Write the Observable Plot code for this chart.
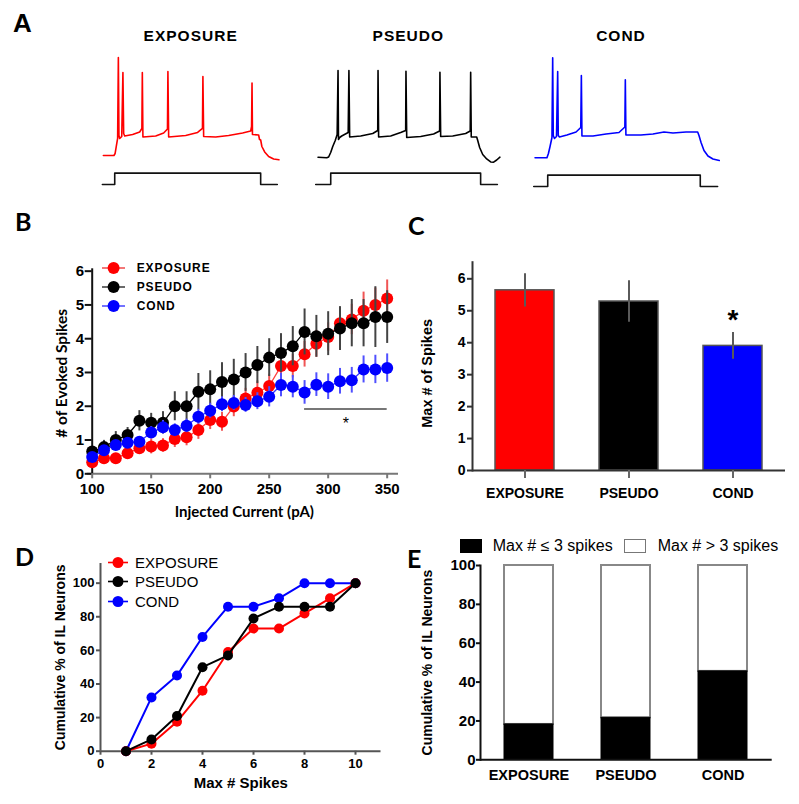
<!DOCTYPE html>
<html><head><meta charset="utf-8">
<script src="https://cdn.jsdelivr.net/npm/d3@7"></script>
<script src="https://cdn.jsdelivr.net/npm/@observablehq/plot@0.6"></script>
<style>
body{margin:0;background:#fff;}
#fig{position:relative;width:799px;height:804px;overflow:hidden;background:#fff;font-family:"Liberation Sans",Arial,sans-serif;}
.t{position:absolute;white-space:nowrap;line-height:1;}
</style></head><body><div id="fig"></div>
<script>
// ---------------- DATA ----------------
const groups = ["EXPOSURE", "PSEUDO", "COND"];
const groupColors = ["#ff0000", "#000000", "#0000ff"];

// Panel A: example voltage traces, [time (ms from step onset), membrane potential (mV)]
const exposureTrace = [[-77,-68],[-5,-68],[3,-66],[12,-58],[20,-51],[25,30],[29,-48],[34,-51],[48,-49],[56,15],[61,-46],[68,-48.5],[122,-47],[170,-44.5],[185,-41],[188,15],[192,-49.5],[279,-48.5],[333,-45.5],[359,-41.5],[362,16],[367,-49.5],[483,-48],[564,-45],[597,-41],[600,11],[605,-49],[687,-49.5],[775,-48],[870,-45.5],[925,-43.5],[931,-39],[934,4.5],[937,-47],[979,-47.5],[985,-52],[993,-52.5],[1001,-59],[1020,-64.5],[1047,-69],[1081,-71.5],[1117,-72.3]];
const pseudoTrace = [[-86,-69.7],[-27,-70.3],[-14,-69.5],[0,-65],[14,-59],[31,-53],[44,-47],[50,17],[53,-52],[61,-50],[75,-48.5],[119,-45],[124,17],[129,-49.5],[204,-48.5],[286,-46],[320,-43],[322,17],[326,-49.5],[408,-48.5],[476,-45],[510,-43],[512,16.3],[517,-50],[612,-49],[700,-46.5],[741,-43.5],[743,15.3],[748,-49],[830,-48.5],[918,-46],[949,-43.5],[952,15.3],[956,-49.5],[993,-49.5],[1000,-53],[1013,-60],[1034,-67],[1061,-71.5],[1088,-74.5],[1108,-74.7],[1129,-72.5],[1151,-69.7]];
const condTrace = [[-86,-70.3],[-5,-70.3],[5,-66],[16,-59],[29,-50],[34,29.7],[38,-48],[46,-51],[60,-49],[68,16],[72,-48],[80,-49.5],[131,-47.5],[193,-44.5],[225,-40],[229,12],[233,-48.5],[308,-48.5],[397,-46.5],[485,-45],[525,-39.5],[528,7.7],[532,-47.5],[634,-47.5],[716,-46.5],[791,-44.5],[852,-45.5],[941,-44.5],[1020,-44.5],[1029,-48],[1043,-55],[1063,-63],[1090,-68.5],[1124,-71.5],[1167,-73]];
// injected current steps, [time (ms), current (pA)]
const exposureStep = [[-84,0],[0,0],[0,300],[993,300],[993,0],[1106,0]];
const pseudoStep = [[-102,0],[0,0],[0,300],[1020,300],[1020,0],[1134,0]];
const condStep = [[-95,0],[0,0],[0,300],[1038,300],[1038,0],[1156,0]];

// Panel B: evoked spikes vs injected current (mean ± SEM)
const currents = [100,110,120,130,140,150,160,170,180,190,200,210,220,230,240,250,260,270,280,290,300,310,320,330,340,350];
const exposureMean = [0.34,0.46,0.46,0.61,0.76,0.81,0.84,1.03,1.08,1.30,1.59,1.54,1.99,2.23,2.40,2.60,3.19,3.19,3.54,3.85,4.05,4.46,4.57,4.83,5.00,5.19];
const exposureSem  = [0.12,0.12,0.13,0.15,0.18,0.22,0.20,0.25,0.25,0.28,0.28,0.28,0.30,0.30,0.35,0.35,0.35,0.35,0.38,0.40,0.42,0.45,0.45,0.55,0.50,0.55];
const pseudoMean = [0.66,0.79,1.00,1.15,1.57,1.51,1.51,2.00,2.00,2.43,2.50,2.72,2.79,3.00,3.22,3.44,3.58,3.78,4.20,4.07,4.15,4.30,4.46,4.46,4.64,4.64];
const pseudoSem  = [0.15,0.20,0.25,0.22,0.30,0.28,0.33,0.43,0.43,0.54,0.55,0.57,0.60,0.56,0.55,0.56,0.57,0.58,0.68,0.62,0.65,0.65,0.70,0.70,0.90,0.78];
const condMean = [0.50,0.70,0.85,0.92,0.95,1.22,1.38,1.30,1.42,1.69,1.87,2.06,2.10,2.04,2.15,2.28,2.63,2.58,2.41,2.64,2.58,2.74,2.77,3.09,3.09,3.13];
const condSem  = [0.10,0.12,0.12,0.12,0.15,0.18,0.20,0.18,0.20,0.22,0.22,0.22,0.22,0.22,0.25,0.30,0.35,0.33,0.35,0.35,0.38,0.38,0.38,0.40,0.42,0.42];
const bSig = {from: 280, to: 350, level: 1.92, label: "*"};
const bXTicks = [100,150,200,250,300,350];
const bYTicks = [0,1,2,3,4,5,6];

// Panel C: max # of spikes (mean ± SEM)
const cMean = [5.64, 5.29, 3.90];
const cSem = [0.52, 0.65, 0.42];
const cSigMarks = ["", "", "*"];
const cYTicks = [0,1,2,3,4,5,6];

// Panel D: cumulative % of IL neurons vs max # spikes
const dMaxSpikes = [1,2,3,4,5,6,7,8,9,10];
const dExposure = [0,4.5,17.5,36,59,73,73,82,91,100];
const dPseudo   = [0,7,21,50,57,79,86,86,86,100];
const dCond     = [0,32,45,68,86,86,91,100,100,100];
const dXTicks = [0,2,4,6,8,10];
const dYTicks = [0,20,40,60,80,100];

// Panel E: % of neurons with max ≤ 3 spikes vs > 3 spikes
const eLow  = [18.2, 21.6, 45.5];
const eHigh = [81.8, 78.4, 54.5];
const eCats = ["Max # \u2264 3 spikes", "Max # > 3 spikes"];
const eYTicks = [0,20,40,60,80,100];

// ---------------- DRAWING ----------------
const fig = document.getElementById("fig");
const ARIAL = "Liberation Sans, Arial, sans-serif";
const LATO = "Lato, Liberation Sans, sans-serif";
const baseStyle = {background: "transparent", overflow: "visible", fontFamily: ARIAL, color: "#000"};
const intFmt = d => String(d);

function put(el, left, top) {
  el.style.position = "absolute";
  el.style.left = left + "px";
  el.style.top = top + "px";
  fig.appendChild(el);
  return el;
}
function text(str, left, top, css) {
  const d = document.createElement("div");
  d.className = "t";
  d.textContent = str;
  Object.assign(d.style, css || {});
  return put(d, left, top);
}
function yTitle(str, dx, dy, family, size) {
  return Plot.text([str], {text: d => d, frameAnchor: "left", textAnchor: "middle", lineAnchor: "middle", rotate: -90, dx, dy, fontFamily: family, fontWeight: "bold", fontSize: size, fill: "#000"});
}
function xTitle(str, dx, dy, family, size) {
  return Plot.text([str], {text: d => d, frameAnchor: "bottom", textAnchor: "middle", lineAnchor: "middle", dx, dy, fontFamily: family, fontWeight: "bold", fontSize: size, fill: "#000"});
}

// Panel letters
text("A", 13, 9.6, {fontFamily: ARIAL, fontWeight: "bold", fontSize: "26px"});
text("B", 15, 208.8, {fontFamily: LATO, fontWeight: "bold", fontSize: "25px"});
text("C", 408, 212.8, {fontFamily: LATO, fontWeight: "bold", fontSize: "25px"});
text("D", 15, 543.8, {fontFamily: LATO, fontWeight: "bold", fontSize: "25px"});
text("E", 407, 545.8, {fontFamily: LATO, fontWeight: "bold", fontSize: "25px"});

// ---- Panel A ----
const traceT = [-110, 1170];
const traceW = (traceT[1] - traceT[0]) / 6.8;
const traces = [
  {name: groups[0], v: exposureTrace, s: exposureStep, color: groupColors[0], onset: 114, title: 190.7, stepTop: 165},
  {name: groups[1], v: pseudoTrace, s: pseudoStep, color: groupColors[1], onset: 330, title: 408.3, stepTop: 165},
  {name: groups[2], v: condTrace, s: condStep, color: groupColors[2], onset: 546.7, title: 621, stepTop: 166.7}
];
for (const tr of traces) {
  const left = tr.onset + traceT[0] / 6.8;
  const vp = Plot.plot({
    width: traceW, height: 120, margin: 0,
    x: {domain: traceT, axis: null}, y: {domain: [-83, 37], axis: null},
    style: baseStyle,
    marks: [Plot.line(tr.v, {x: d => d[0], y: d => d[1], stroke: tr.color, strokeWidth: 1.6})]
  });
  put(vp, left, 50);
  const sp = Plot.plot({
    width: traceW, height: 25, margin: 0,
    x: {domain: traceT, axis: null}, y: {domain: [-159, 503], axis: null},
    style: baseStyle,
    marks: [Plot.line(tr.s, {x: d => d[0], y: d => d[1], stroke: "#111", strokeWidth: 1.6})]
  });
  put(sp, left, tr.stepTop);
  text(tr.name, tr.title - 80, 27.5, {width: "160px", textAlign: "center", fontFamily: ARIAL, fontWeight: "bold", fontSize: "15.5px", letterSpacing: "1px"});
}

// ---- Panel B ----
const bSeries = [
  {name: groups[0], mean: exposureMean, sem: exposureSem, color: "#ff0000", line: "#ff4040", err: "#f05555"},
  {name: groups[1], mean: pseudoMean, sem: pseudoSem, color: "#000000", line: "#000000", err: "#444444"},
  {name: groups[2], mean: condMean, sem: condSem, color: "#0000ff", line: "#3535ff", err: "#5050ff"}
];
const bXDomain = [100, 359.6];
const bMarks = [
  Plot.ruleY([0], {stroke: "#777", strokeWidth: 2, dx: -5, insetRight: -5}),
  Plot.ruleX([bXDomain[0]], {stroke: "#111", strokeWidth: 2}),
  Plot.axisY({ticks: bYTicks, tickFormat: intFmt, tickSize: 7, tickPadding: 1, fontSize: 15, fontWeight: "bold", stroke: "#111", strokeWidth: 2, fill: "#000", label: null}),
  Plot.axisX({ticks: bXTicks, tickFormat: intFmt, tickSize: 5, tickPadding: 5, fontSize: 15, fontWeight: "bold", stroke: "#777", strokeWidth: 2, fill: "#000", label: null})
];
for (const s of bSeries) {
  const rows = currents.map((c, i) => ({x: c, y: s.mean[i], e: s.sem[i]}));
  bMarks.push(
    Plot.ruleX(rows, {x: "x", y1: d => d.y - d.e, y2: d => d.y + d.e, stroke: s.err, strokeWidth: 2}),
    Plot.line(rows, {x: "x", y: "y", stroke: s.line, strokeWidth: 1.3}),
    Plot.dot(rows, {x: "x", y: "y", r: 6, fill: s.color})
  );
}
bMarks.push(
  Plot.ruleY([bSig], {x1: d => d.from, x2: d => d.to, y: d => d.level, stroke: "#777", strokeWidth: 2}),
  Plot.text([bSig], {x: d => (d.from + d.to) / 2, y: d => d.level, text: d => d.label, dy: 15, fontSize: 16, fill: "#000"}),
  yTitle("# of Evoked Spikes", -29.7, 2, LATO, 15.5),
  xTitle("Injected Current (pA)", -1, 38, LATO, 15)
);
const B = Plot.plot({
  width: 400, height: 275, marginLeft: 91.7, marginRight: 2, marginTop: 18.3, marginBottom: 51.7,
  x: {domain: bXDomain}, y: {domain: [0, 6.07]},
  style: baseStyle, marks: bMarks
});
put(B, 0, 250);

// legends
function legendEntry(cx, cy, x0, x1, r, dotColor, lineColor, label, textLeft, css) {
  const ns = "http://www.w3.org/2000/svg";
  const svg = document.createElementNS(ns, "svg");
  const w = x1 - x0, h = 2 * r + 4;
  svg.setAttribute("width", w); svg.setAttribute("height", h);
  const ln = document.createElementNS(ns, "line");
  ln.setAttribute("x1", 0); ln.setAttribute("x2", w); ln.setAttribute("y1", h / 2); ln.setAttribute("y2", h / 2);
  ln.setAttribute("stroke", lineColor); ln.setAttribute("stroke-width", 1.6);
  const c = document.createElementNS(ns, "circle");
  c.setAttribute("cx", cx - x0); c.setAttribute("cy", h / 2); c.setAttribute("r", r); c.setAttribute("fill", dotColor);
  svg.appendChild(ln); svg.appendChild(c);
  put(svg, x0, cy - h / 2);
  const fs = parseFloat(css.fontSize);
  text(label, textLeft, cy - fs / 2, css);
}
const bLegY = [268.3, 286.7, 306];
bSeries.forEach((s, i) => legendEntry(113.3, bLegY[i], 101.7, 125, 6, s.color, s.err, s.name, 136.7,
  {fontFamily: ARIAL, fontWeight: "bold", fontSize: "12px", letterSpacing: "0.9px"}));

// ---- Panel C ----
const cRows = groups.map((g, i) => ({g, v: cMean[i], e: cSem[i], color: groupColors[i], sig: cSigMarks[i]}));
const C = Plot.plot({
  width: 399, height: 260, marginLeft: 72, marginRight: 14, marginTop: 11.7, marginBottom: 40,
  x: {domain: groups, paddingInner: 0.433, paddingOuter: 0.221},
  y: {domain: [0, 6.52]},
  color: {type: "identity"},
  style: baseStyle,
  marks: [
    Plot.barY(cRows, {x: "g", y: "v", fill: "color", stroke: "#555", strokeWidth: 1.5}),
    Plot.ruleX(cRows, {x: "g", y1: d => d.v - d.e, y2: d => d.v + d.e, stroke: "#5a5a5a", strokeWidth: 2}),
    Plot.frame({anchor: "left", stroke: "#333", strokeWidth: 2}),
    Plot.ruleY([0], {stroke: "#333", strokeWidth: 2}),
    Plot.axisY({ticks: cYTicks, tickFormat: intFmt, tickSize: 5, tickPadding: 2, fontSize: 14, fontWeight: "bold", stroke: "#333", strokeWidth: 2, fill: "#000", label: null}),
    Plot.axisX({tickSize: 8, tickPadding: 10, fontSize: 14, fontWeight: "bold", stroke: "#666", strokeWidth: 2, fill: "#000", label: null}),
    Plot.text(cRows, {x: "g", y: d => d.v + d.e, text: "sig", dy: -12, fontSize: 28, fontWeight: "bold", fill: "#000"}),
    yTitle("Max # of Spikes", -45, 7, ARIAL, 14.5)
  ]
});
put(C, 400, 250);

// ---- Panel D ----
const dSeries = [
  {name: groups[2], vals: dCond, color: "#0000ff"},
  {name: groups[0], vals: dExposure, color: "#ff0000"},
  {name: groups[1], vals: dPseudo, color: "#000000"}
];
const dMarks = [
  Plot.ruleY([0], {stroke: "#555", strokeWidth: 2}),
  Plot.ruleX([0], {stroke: "#555", strokeWidth: 2}),
  Plot.axisY({ticks: dYTicks, tickFormat: intFmt, tickSize: 4, tickPadding: 2, fontSize: 13, fontWeight: "bold", stroke: "#555", strokeWidth: 2, fill: "#000", label: null}),
  Plot.axisX({ticks: dXTicks, tickFormat: intFmt, tickSize: 4, tickPadding: 4, fontSize: 13, fontWeight: "bold", stroke: "#555", strokeWidth: 2, fill: "#000", label: null})
];
for (const s of dSeries) {
  const rows = dMaxSpikes.map((x, i) => ({x, y: s.vals[i]}));
  dMarks.push(
    Plot.line(rows, {x: "x", y: "y", stroke: s.color, strokeWidth: 2}),
    Plot.dot(rows, {x: "x", y: "y", r: 5, fill: s.color})
  );
}
dMarks.push(
  yTitle("Cumulative % of IL Neurons", -40, 0, ARIAL, 14),
  xTitle("Max # Spikes", 0, 31.6, ARIAL, 15)
);
const D = Plot.plot({
  width: 400, height: 279, marginLeft: 100, marginRight: 19.5, marginTop: 38, marginBottom: 53.3,
  x: {domain: [0, 11]}, y: {domain: [0, 111.7]},
  style: baseStyle, marks: dMarks
});
put(D, 0, 525);
const dLegY = [562.3, 581.7, 601];
[0, 1, 2].forEach(i => legendEntry(118.3, dLegY[i], 108.3, 128.3, 5.5, groupColors[i], groupColors[i], groups[i], 135,
  {fontFamily: ARIAL, fontSize: "15px"}));

// ---- Panel E ----
const eRows = [];
groups.forEach((g, i) => {
  eRows.push({g, cat: eCats[0], y1: 0, y2: eLow[i]});
  eRows.push({g, cat: eCats[1], y1: eLow[i], y2: eLow[i] + eHigh[i]});
});
const E = Plot.plot({
  width: 399, height: 279, marginLeft: 80, marginRight: 27.3, marginTop: 40, marginBottom: 44.7,
  x: {domain: groups, paddingInner: 0.496, paddingOuter: 0.245},
  y: {domain: [0, 100]},
  style: baseStyle,
  marks: [
    Plot.barY(eRows.filter(d => d.cat === eCats[1]), {x: "g", y1: "y1", y2: "y2", fill: "#fff", stroke: "#888", strokeWidth: 2}),
    Plot.barY(eRows.filter(d => d.cat === eCats[0]), {x: "g", y1: "y1", y2: "y2", fill: "#000", stroke: "#000", strokeWidth: 1}),
    Plot.frame({anchor: "left", stroke: "#111", strokeWidth: 2}),
    Plot.ruleY([0], {stroke: "#111", strokeWidth: 2}),
    Plot.axisY({ticks: eYTicks, tickFormat: intFmt, tickSize: 4, tickPadding: 1, fontSize: 15, fontWeight: "bold", stroke: "#111", strokeWidth: 2, fill: "#000", label: null}),
    Plot.axisX({tickSize: 0, tickPadding: 10, fontSize: 14.5, fontWeight: "bold", fill: "#000", label: null}),
    yTitle("Cumulative % of IL Neurons", -53.3, 0, ARIAL, 14)
  ]
});
put(E, 400, 525);

// Panel E legend
function swatch(left, top, w, h, fill, stroke) {
  const d = document.createElement("div");
  Object.assign(d.style, {width: w + "px", height: h + "px", background: fill, border: "1.5px solid " + stroke, boxSizing: "border-box"});
  put(d, left, top);
}
swatch(460, 539, 21.5, 14, "#000", "#000");
text(eCats[0], 492.7, 538, {fontFamily: ARIAL, fontSize: "16px"});
swatch(624.3, 539, 21.5, 14, "#fff", "#777");
text(eCats[1], 657.7, 538, {fontFamily: ARIAL, fontSize: "16px"});
</script></body></html>
